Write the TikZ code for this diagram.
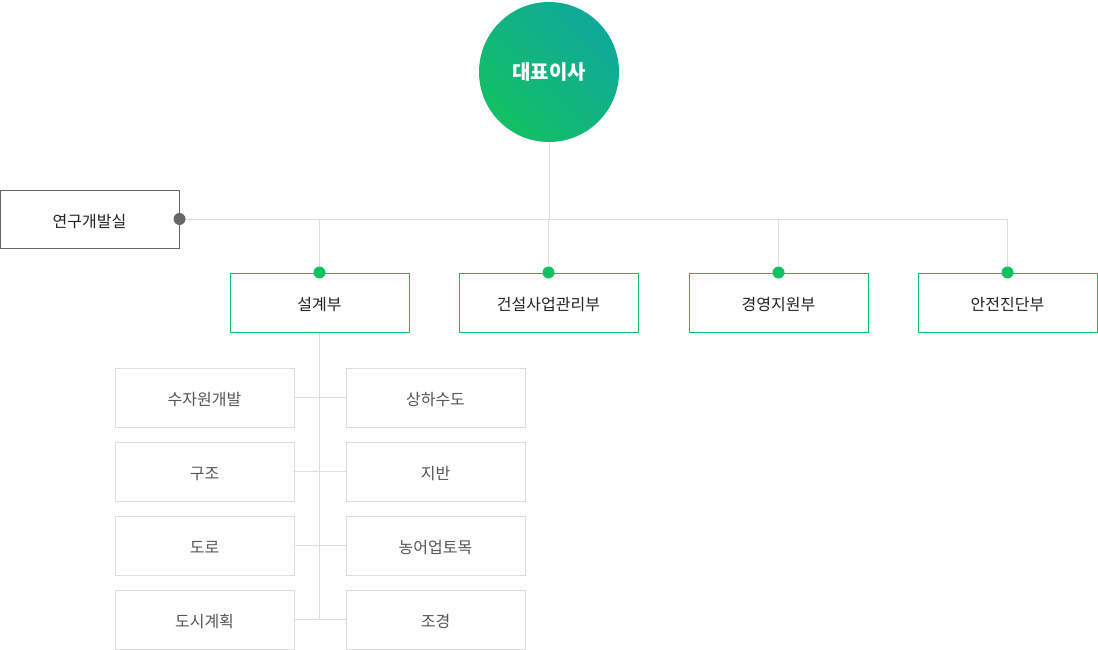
\documentclass[tikz,border=0pt]{standalone}
\usepackage{fontspec}
\setmainfont{Noto Sans CJK KR}
\definecolor{gA}{HTML}{12C064}
\definecolor{gB}{HTML}{10A89A}
\definecolor{lineg}{HTML}{DDDDDD}
\definecolor{dgray}{HTML}{666666}
\definecolor{txt}{HTML}{222222}
\definecolor{stxt}{HTML}{555555}
\begin{document}
\begin{tikzpicture}[x=1pt,y=-1pt,
  conn/.style={draw=lineg,line width=0.9pt},
  tfont/.style={font=\fontsize{16}{18}\selectfont,text height=17pt,text depth=1pt},
  mainbox/.style={draw=gA,line width=1pt,minimum width=179pt,minimum height=59pt,inner sep=0pt,tfont,text=txt},
  subbox/.style={draw=lineg,line width=1pt,minimum width=179pt,minimum height=59pt,inner sep=0pt,tfont,text=stxt},
  labbox/.style={draw=dgray,line width=1pt,minimum width=179pt,minimum height=58pt,inner sep=0pt,tfont,text=txt},
  gdot/.style={circle,fill=gA,minimum size=12pt,inner sep=0pt},
  ddot/.style={circle,fill=dgray,minimum size=12pt,inner sep=0pt}]
\useasboundingbox (0,0) rectangle (1098,650);
% nodes
\node[circle,minimum size=140pt,inner sep=0pt,left color=gB,right color=gA,shading angle=-45,text=white,font=\fontsize{20}{22}\selectfont\bfseries] (ceo) at (549,72) {대표이사};
\node[labbox] (rnd) at (89.5,219) {연구개발실};
\node[mainbox] (d1) at (319.5,302.5) {설계부};
\node[mainbox] (d2) at (548.5,302.5) {건설사업관리부};
\node[mainbox] (d3) at (778.5,302.5) {경영지원부};
\node[mainbox] (d4) at (1007.5,302.5) {안전진단부};
\coordinate (hub) at (549,219);
\coordinate (hl) at (179,219);
\coordinate (hr) at (1008,219);
% sub boxes
\node[subbox] (s1) at (204.5,397.5) {수자원개발};
\node[subbox] (s2) at (204.5,471.5) {구조};
\node[subbox] (s3) at (204.5,545.5) {도로};
\node[subbox] (s4) at (204.5,619.5) {도시계획};
\node[subbox] (t1) at (435.5,397.5) {상하수도};
\node[subbox] (t2) at (435.5,471.5) {지반};
\node[subbox] (t3) at (435.5,545.5) {농어업토목};
\node[subbox] (t4) at (435.5,619.5) {조경};
% connectors
\draw[conn] (ceo.south) -- (hub);
\draw[conn] (hl) -- (hr);
\draw[conn] (d1.north |- hub) -- (d1.north);
\draw[conn] (d2.north |- hub) -- (d2.north);
\draw[conn] (d3.north |- hub) -- (d3.north);
\draw[conn] (d4.north |- hub) -- (d4.north);
\draw[conn] (d1.south) -- (d1.south |- s4.east);
\draw[conn] (s1.east) -- (t1.west);
\draw[conn] (s2.east) -- (t2.west);
\draw[conn] (s3.east) -- (t3.west);
\draw[conn] (s4.east) -- (t4.west);
\node[ddot] (rdot) at (rnd.east) {};
\node[gdot] (g1) at (d1.north) {};
\node[gdot] (g2) at (d2.north) {};
\node[gdot] (g3) at (d3.north) {};
\node[gdot] (g4) at (d4.north) {};
\end{tikzpicture}
\end{document}
